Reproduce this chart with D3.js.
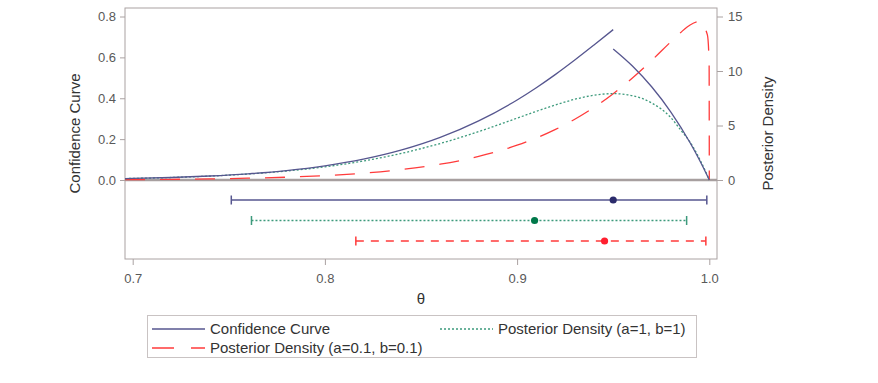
<!DOCTYPE html>
<html>
<head>
<meta charset="utf-8">
<script src="https://cdn.jsdelivr.net/npm/d3@7"></script>
<style>
  body { margin: 0; background: #fff; }
  text { font-family: "Liberation Sans", Arial, sans-serif; }
</style>
</head>
<body>
<div id="chart"></div>
<script>
// theta grid and curve values
const thetaLow = [0.696, 0.70, 0.72, 0.74, 0.76, 0.78, 0.80, 0.82, 0.84, 0.86, 0.88, 0.90, 0.91, 0.92, 0.93, 0.94, 0.95]
const ccLow = [0.0069, 0.0076, 0.0123, 0.0195, 0.0302, 0.0461, 0.0692, 0.1018, 0.1471, 0.2084, 0.2891, 0.3917, 0.4516, 0.5168, 0.5869, 0.6605, 0.7358]
const thetaHigh = [0.95, 0.96, 0.97, 0.98, 0.99, 0.995, 0.999, 1.0]
const ccHigh = [0.6415, 0.5580, 0.4562, 0.3324, 0.1821, 0.0954, 0.0198, 0]

const thetaPost = [0.696, 0.70, 0.72, 0.74, 0.76, 0.78, 0.80, 0.82, 0.84, 0.86, 0.88, 0.90, 0.91, 0.92, 0.93, 0.94, 0.95, 0.96, 0.97, 0.98, 0.985, 0.99, 0.995, 0.999, 0.9999, 1.0]
const post11 = [0.131, 0.144, 0.229, 0.358, 0.548, 0.823, 1.211, 1.742, 2.447, 3.348, 4.442, 5.674, 6.299, 6.891, 7.405, 7.777, 7.924, 7.735, 7.064, 5.722, 4.61, 3.470, 1.909, 0.412, 0.04, 0]
const post0101 = [0.034, 0.038, 0.062, 0.102, 0.163, 0.259, 0.406, 0.627, 0.959, 1.449, 2.163, 3.190, 3.856, 4.644, 5.573, 6.659, 7.920, 9.361, 10.972, 12.685, 13.515, 14.223, 14.538, 13.309, 10.745, 0]

// interval estimates
const seriesNames = ["Confidence Curve", "Posterior Density (a=1, b=1)", "Posterior Density (a=0.1, b=0.1)"]
const lowerCL = [0.7513, 0.7618, 0.8161]
const upperCL = [0.9987, 0.9882, 0.9982]
const pointEst = [0.9500, 0.9091, 0.9455]

const leftTicks = [0, 0.2, 0.4, 0.6, 0.8]
const rightTicks = [0, 5, 10, 15]
const xTicks = [0.7, 0.8, 0.9, 1.0]

const W = 878, H = 383
const frame = {left:125, right:717, top:8, bottom:259}
const zeroY = 180

const lineColors = ["#56568f", "#3d9a7c", "#ff3b3b"]
const markColors = ["#2b2b6b", "#00784a", "#ff1f2f"]
const dashes = [null, "2,2", "20,15"]

const svg = d3.select("#chart").append("svg")
    .attr("width", W)
    .attr("height", H)

const x = d3.scaleLinear()
    .domain([0.696, 1.004])
    .range([frame.left, frame.right])

const yL = d3.scaleLinear()
    .domain([0, 0.8])
    .range([zeroY, 16.5])

const yR = d3.scaleLinear()
    .domain([0, 15])
    .range([zeroY, 16.5])

const yRow = d3.scalePoint()
    .domain(seriesNames)
    .range([200, 241])

svg.append("clipPath").attr("id", "clip")
    .append("rect")
    .attr("x", frame.left).attr("y", frame.top)
    .attr("width", frame.right - frame.left)
    .attr("height", frame.bottom - frame.top)

// axes
const axisColor = "#aaa2a2"
const tickText = "#595959"

const leftAxis = svg.append("g")
    .attr("transform", "translate(" + frame.left + ",0)")
    .call(d3.axisLeft(yL).tickValues(leftTicks).tickFormat(d3.format(".1f")).tickSize(5).tickPadding(4))
const rightAxis = svg.append("g")
    .attr("transform", "translate(" + frame.right + ",0)")
    .call(d3.axisRight(yR).tickValues(rightTicks).tickSize(6).tickPadding(5))
const bottomAxis = svg.append("g")
    .attr("transform", "translate(0," + frame.bottom + ")")
    .call(d3.axisBottom(x).tickValues(xTicks).tickFormat(d3.format(".1f")).tickSize(6).tickPadding(9))

;[leftAxis, rightAxis, bottomAxis].forEach(g => {
    g.select(".domain").remove()
    g.selectAll("line").attr("stroke", axisColor)
    g.selectAll("text").attr("fill", tickText).style("font-size", "13px")
        .style("font-family", "'Liberation Sans', Arial, sans-serif")
})

svg.append("rect")
    .attr("x", frame.left).attr("y", frame.top)
    .attr("width", frame.right - frame.left)
    .attr("height", frame.bottom - frame.top)
    .attr("fill", "none")
    .attr("stroke", axisColor)

// reference line at zero
svg.append("line")
    .attr("x1", frame.left).attr("x2", frame.right)
    .attr("y1", zeroY).attr("y2", zeroY)
    .attr("stroke", "#a79f9f")
    .attr("stroke-width", 2.5)

const plot = svg.append("g").attr("clip-path", "url(#clip)")

function drawCurve(xs, ys, yScale, i) {
    const pts = xs.map((t, k) => [t, ys[k]])
    plot.append("path")
        .datum(pts)
        .attr("fill", "none")
        .attr("stroke", lineColors[i])
        .attr("stroke-width", 1.3)
        .attr("stroke-dasharray", dashes[i])
        .attr("d", d3.line()
            .x(d => x(d[0]))
            .y(d => yScale(d[1]))
            .curve(d3.curveMonotoneX))
}

drawCurve(thetaPost, post0101, yR, 2)
drawCurve(thetaPost, post11, yR, 1)
drawCurve(thetaLow, ccLow, yL, 0)
drawCurve(thetaHigh, ccHigh, yL, 0)

// interval bars
const barDash = [null, "2,2", "8,7"]
seriesNames.forEach((name, i) => {
    const yy = yRow(name)
    const g = plot.append("g")
    g.append("line")
        .attr("x1", x(lowerCL[i])).attr("x2", x(upperCL[i]))
        .attr("y1", yy).attr("y2", yy)
        .attr("stroke", lineColors[i])
        .attr("stroke-width", 1.4)
        .attr("stroke-dasharray", barDash[i])
    ;[lowerCL[i], upperCL[i]].forEach(v => {
        g.append("line")
            .attr("x1", x(v)).attr("x2", x(v))
            .attr("y1", yy - 4.5).attr("y2", yy + 4.5)
            .attr("stroke", lineColors[i])
            .attr("stroke-width", 1.5)
    })
    g.append("circle")
        .attr("cx", x(pointEst[i])).attr("cy", yy)
        .attr("r", 3.6)
        .attr("fill", markColors[i])
})

// axis labels
svg.append("text")
    .attr("transform", "translate(80," + ((frame.top + frame.bottom) / 2) + ") rotate(-90)")
    .attr("text-anchor", "middle")
    .attr("fill", "#333")
    .style("font-size", "15px")
    .text("Confidence Curve")

svg.append("text")
    .attr("transform", "translate(773," + ((frame.top + frame.bottom) / 2) + ") rotate(-90)")
    .attr("text-anchor", "middle")
    .attr("fill", "#333")
    .style("font-size", "15px")
    .text("Posterior Density")

svg.append("text")
    .attr("x", (frame.left + frame.right) / 2)
    .attr("y", 304)
    .attr("text-anchor", "middle")
    .attr("fill", "#333")
    .style("font-size", "15px")
    .text("θ")

// legend
const legend = svg.append("g")
legend.append("rect")
    .attr("x", 147.5).attr("y", 315.5)
    .attr("width", 549).attr("height", 42)
    .attr("fill", "none")
    .attr("stroke", "#c9c3c3")

const legPos = [[152, 329], [440, 329], [152, 348]]
seriesNames.forEach((name, i) => {
    const p = legPos[i]
    legend.append("line")
        .attr("x1", p[0]).attr("x2", p[0] + 53)
        .attr("y1", p[1]).attr("y2", p[1])
        .attr("stroke", lineColors[i])
        .attr("stroke-width", 1.3)
        .attr("stroke-dasharray", i == 2 ? "22,17" : dashes[i])
    legend.append("text")
        .attr("x", p[0] + 58)
        .attr("y", p[1] + 5)
        .attr("fill", "#333")
        .style("font-size", "15px")
        .text(name)
})
</script>
</body>
</html>
